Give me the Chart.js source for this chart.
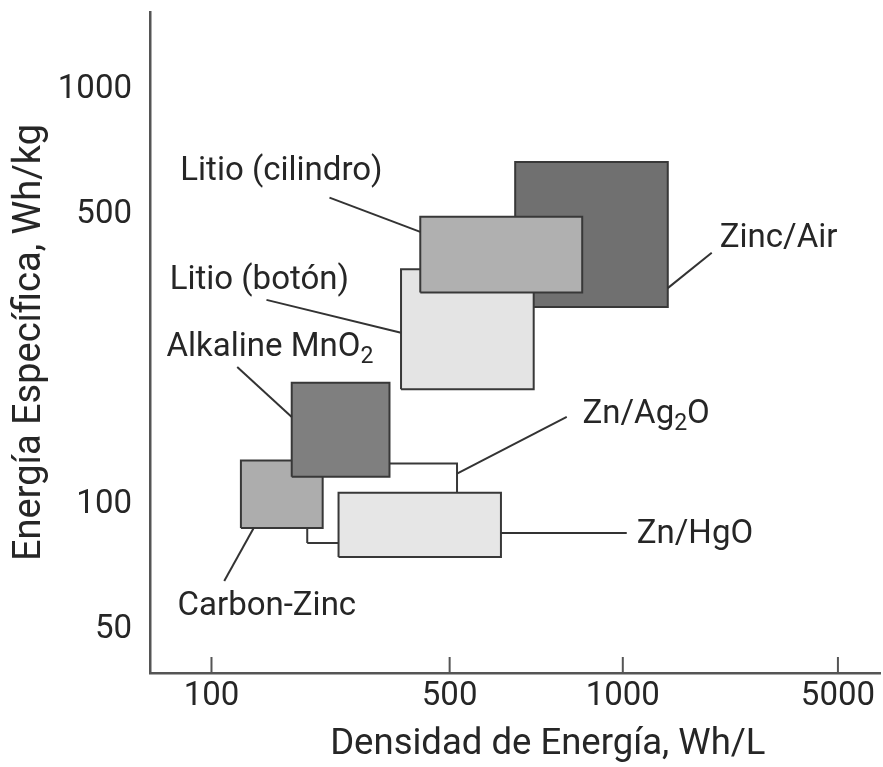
<!DOCTYPE html>
<html>
<head>
<meta charset="utf-8">
<script src="https://cdn.jsdelivr.net/npm/chart.js@4.4.1/dist/chart.umd.min.js"></script>
<style>
  html, body { margin: 0; padding: 0; background: #fff; }
</style>
</head>
<body>
<canvas id="chart" width="883" height="767"></canvas>
<script>
// cell chemistries, listed top layer first
const cells = ['Litio (cilindro)', 'Litio (botón)', 'Zinc/Air', 'Alkaline MnO2', 'Carbon-Zinc', 'Zn/HgO', 'Zn/Ag2O'];
// energy density range, Wh/L
const whlLow  = [410, 360, 650, 172, 122, 236, 191];
const whlHigh = [850, 700, 1400, 333, 212, 614, 515];
// specific energy range, Wh/kg
const whkgLow  = [325, 190, 300, 117, 88, 75, 81];
const whkgHigh = [495, 370, 670, 197, 128, 107, 126];

const xTicks = [100, 500, 1000, 5000];
const yTicks = [50, 100, 500, 1000];

const fills = ['#b0b0b0', '#e4e4e4', '#707070', '#7f7f7f', '#adadad', '#e6e6e6', '#ffffff'];

// callout labels: text anchor and leader line, in data units (_2 = subscript)
const notes = [
  { text: 'Litio (cilindro)', at: [81, 635], line: [[222, 550], [410, 455]] },
  { text: 'Litio (botón)', at: [75.4, 347], line: [[145, 312], [360, 260]] },
  { text: 'Alkaline MnO_2', at: [73.8, 239], line: [[119, 215], [172, 163]] },
  { text: 'Carbon-Zinc', at: [79.5, 56.8], line: [[109, 65.6], [133, 88]] },
  { text: 'Zn/Ag_2O', at: [851, 165], line: [[799, 163], [515, 119]] },
  { text: 'Zn/HgO', at: [1110, 84.8], line: [[1030, 85.6], [614, 85.6]] },
  { text: 'Zinc/Air', at: [2066, 437], line: [[1945, 405], [1400, 333]] }
];

const xTitle = 'Densidad de Energía, Wh/L';
const yTitle = 'Energía Específica, Wh/kg';

// the printed x axis is not evenly logarithmic: each tick gets its own spot
// (in units of the 100..1000 span) and values in between are log-interpolated
const xTickSpot = [0, 0.579, 1, 1.523];
function warp(v) {
  const l = Math.log10(v), k = xTicks.map(Math.log10);
  let i = 0;
  while (i < k.length - 2 && l > k[i + 1]) i++;
  return xTickSpot[i] + (l - k[i]) * (xTickSpot[i + 1] - xTickSpot[i]) / (k[i + 1] - k[i]);
}
class WarpLogScale extends Chart.LogarithmicScale {
  getPixelForValue(v) {
    if (v === null || isNaN(v)) return NaN;
    const a = warp(this.min), b = warp(this.max);
    return this.getPixelForDecimal((warp(v) - a) / (b - a));
  }
}
WarpLogScale.id = 'warplog';
WarpLogScale.defaults = Chart.LogarithmicScale.defaults;
Chart.register(WarpLogScale);

const font = 'Roboto';
const ink = '#262626';

function drawRich(ctx, str, x, y) {
  str.split(/(_\d)/).filter(Boolean).forEach(p => {
    if (p[0] === '_') {
      ctx.font = '23px ' + font;
      ctx.fillText(p.slice(1), x, y + 9);
      x += ctx.measureText(p.slice(1)).width;
    } else {
      ctx.font = '33px ' + font;
      ctx.fillText(p, x, y);
      x += ctx.measureText(p).width;
    }
  });
}

const overlay = {
  id: 'overlay',
  afterDatasetsDraw(chart) {
    const { ctx, chartArea } = chart;
    const x = chart.scales.x, y = chart.scales.y;
    ctx.save();
    ctx.strokeStyle = '#555';
    ctx.lineWidth = 2;
    xTicks.forEach(v => {
      const px = x.getPixelForValue(v);
      ctx.beginPath();
      ctx.moveTo(px, chartArea.bottom);
      ctx.lineTo(px, chartArea.bottom - 16);
      ctx.stroke();
    });
    ctx.strokeStyle = '#333';
    ctx.fillStyle = ink;
    ctx.textBaseline = 'middle';
    ctx.textAlign = 'left';
    notes.forEach(n => {
      ctx.beginPath();
      ctx.moveTo(x.getPixelForValue(n.line[0][0]), y.getPixelForValue(n.line[0][1]));
      ctx.lineTo(x.getPixelForValue(n.line[1][0]), y.getPixelForValue(n.line[1][1]));
      ctx.stroke();
      drawRich(ctx, n.text, x.getPixelForValue(n.at[0]), y.getPixelForValue(n.at[1]));
    });
    // x axis title sits a little right of centre in the original
    ctx.textAlign = 'center';
    ctx.font = '36.5px ' + font;
    ctx.fillText(xTitle, chartArea.left + (chartArea.right - chartArea.left) * 0.545, chartArea.bottom + 72);
    ctx.restore();
  }
};

const datasets = cells.map((name, i) => ({
  label: name,
  data: [
    { x: whlLow[i], y: whkgLow[i] },
    { x: whlHigh[i], y: whkgLow[i] },
    { x: whlHigh[i], y: whkgHigh[i] },
    { x: whlLow[i], y: whkgHigh[i] },
    { x: whlLow[i], y: whkgLow[i] }
  ],
  showLine: true,
  fill: 'shape',
  backgroundColor: fills[i],
  borderColor: '#383838',
  borderWidth: 2,
  borderJoinStyle: 'miter',
  pointRadius: 0,
  tension: 0
}));

new Chart(document.getElementById('chart'), {
  type: 'scatter',
  data: { datasets },
  plugins: [overlay],
  options: {
    responsive: false,
    animation: false,
    layout: { padding: { top: 12, right: 3, left: 0, bottom: 0 } },
    plugins: { legend: { display: false }, tooltip: { enabled: false } },
    scales: {
      x: {
        type: 'warplog',
        min: 66,
        max: 6850,
        afterBuildTicks: s => { s.ticks = xTicks.map(v => ({ value: v })); },
        afterFit: s => { s.height = 94; s.paddingLeft = 0; s.paddingRight = 0; },
        ticks: { autoSkip: false, maxRotation: 0, padding: 4, color: ink, font: { family: font, size: 33 }, callback: v => String(v) },
        grid: { display: false, drawTicks: false },
        border: { display: true, color: '#555', width: 2.5 },
        title: { display: false, text: xTitle }
      },
      y: {
        type: 'logarithmic',
        min: 39.4,
        max: 1540,
        afterBuildTicks: s => { s.ticks = yTicks.map(v => ({ value: v })); },
        afterFit: s => { s.width = 150; s.paddingTop = 0; s.paddingBottom = 0; },
        ticks: { autoSkip: false, padding: 18, color: ink, font: { family: font, size: 33 }, callback: v => String(v) },
        grid: { display: false, drawTicks: false },
        border: { display: true, color: '#555', width: 2.5 },
        title: { display: true, text: yTitle, color: ink, font: { family: font, size: 38 }, padding: { top: 8, bottom: 0 } }
      }
    }
  }
});
</script>
</body>
</html>
